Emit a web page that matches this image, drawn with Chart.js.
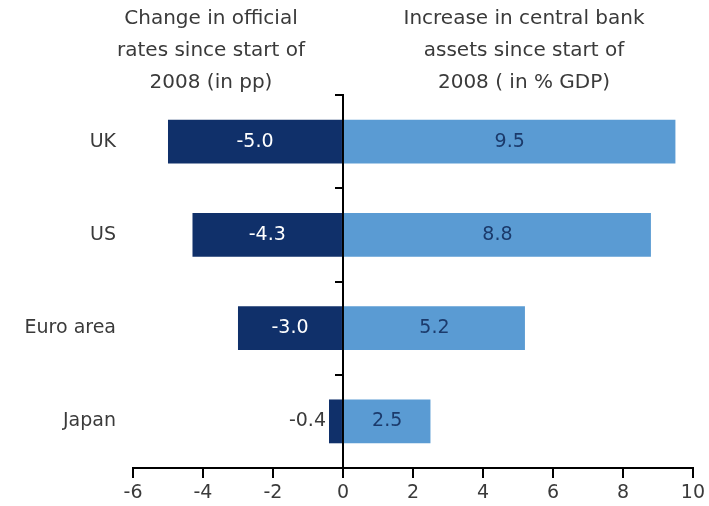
<!DOCTYPE html>
<html>
<head>
<meta charset="utf-8">
<script src="https://cdn.jsdelivr.net/npm/chart.js@4"></script>
<style>
  html, body { margin: 0; padding: 0; background: #fff; }
  #wrap { position: relative; width: 709px; height: 506px; }
</style>
</head>
<body>
<div id="wrap"><canvas id="cbChart" width="709" height="506"></canvas></div>
<script>
var countries = ['UK', 'US', 'Euro area', 'Japan'];
var rateChange = [-5.0, -4.3, -3.0, -0.4];
var assetIncrease = [9.5, 8.8, 5.2, 2.5];
var leftTitle = ['Change in official', 'rates since start of', '2008 (in pp)'];
var rightTitle = ['Increase in central bank', 'assets since start of', '2008 ( in % GDP)'];

var textFont = '"DejaVu Sans", Verdana, sans-serif';
var textColor = '#3a3a3a';

// value labels drawn on (or next to) each bar
var barLabels = {
  id: 'barLabels',
  afterDatasetsDraw: function (chart) {
    var ctx = chart.ctx;
    ctx.save();
    ctx.font = '19px ' + textFont;
    ctx.textBaseline = 'middle';
    chart.data.datasets.forEach(function (ds, di) {
      chart.getDatasetMeta(di).data.forEach(function (bar, i) {
        var txt = ds.data[i].toFixed(1);
        var w = ctx.measureText(txt).width;
        var left = Math.min(bar.x, bar.base);
        var right = Math.max(bar.x, bar.base);
        if (right - left < w + 6) {
          ctx.textAlign = 'right';
          ctx.fillStyle = textColor;
          ctx.fillText(txt, left - 3, bar.y);
        } else {
          ctx.textAlign = 'center';
          ctx.fillStyle = di === 0 ? '#ffffff' : '#1b3a6b';
          ctx.fillText(txt, (left + right) / 2, bar.y);
        }
      });
    });
    ctx.restore();
  }
};

// the two column headings above the chart
var headings = {
  id: 'headings',
  afterDraw: function (chart) {
    var ctx = chart.ctx;
    ctx.save();
    ctx.font = '20px ' + textFont;
    ctx.fillStyle = textColor;
    ctx.textAlign = 'center';
    ctx.textBaseline = 'middle';
    leftTitle.forEach(function (line, i) {
      ctx.fillText(line, 211, 19 + i * 32);
    });
    rightTitle.forEach(function (line, i) {
      ctx.fillText(line, 524, 19 + i * 32);
    });
    ctx.restore();
  }
};

var ctx = document.getElementById('cbChart').getContext('2d');
var chart = new Chart(ctx, {
  type: 'bar',
  data: {
    labels: countries,
    datasets: [{
      label: 'Change in official rates',
      data: rateChange,
      backgroundColor: '#10306a',
      barPercentage: 0.47,
      categoryPercentage: 1.0
    }, {
      label: 'Increase in central bank assets',
      data: assetIncrease,
      backgroundColor: '#5a9bd3',
      barPercentage: 0.47,
      categoryPercentage: 1.0
    }]
  },
  options: {
    indexAxis: 'y',
    responsive: false,
    animation: false,
    layout: {
      padding: { top: 95, right: 16, left: 0, bottom: 0 }
    },
    plugins: {
      legend: { display: false },
      tooltip: { enabled: false },
      title: { display: false }
    },
    scales: {
      x: {
        stacked: true,
        min: -6,
        max: 10,
        ticks: {
          stepSize: 2,
          color: textColor,
          padding: 4,
          maxRotation: 0,
          font: { family: textFont, size: 19 }
        },
        grid: {
          drawOnChartArea: false,
          drawTicks: true,
          tickLength: 10,
          color: '#000',
          lineWidth: 2
        },
        border: { display: true, color: '#000', width: 2 },
        afterFit: function (scale) { scale.height = 38; }
      },
      y: {
        stacked: true,
        ticks: {
          color: textColor,
          padding: 9,
          font: { family: textFont, size: 19 }
        },
        grid: { display: false },
        border: { display: false },
        afterFit: function (scale) { scale.width = 133; }
      },
      y0: {
        type: 'category',
        position: { x: 0 },
        offset: true,
        ticks: { display: false },
        grid: {
          offset: true,
          drawOnChartArea: false,
          drawTicks: true,
          tickLength: 7,
          color: '#000',
          lineWidth: 2
        },
        border: { display: true, color: '#000', width: 2 }
      }
    }
  },
  plugins: [barLabels, headings]
});
</script>
</body>
</html>
